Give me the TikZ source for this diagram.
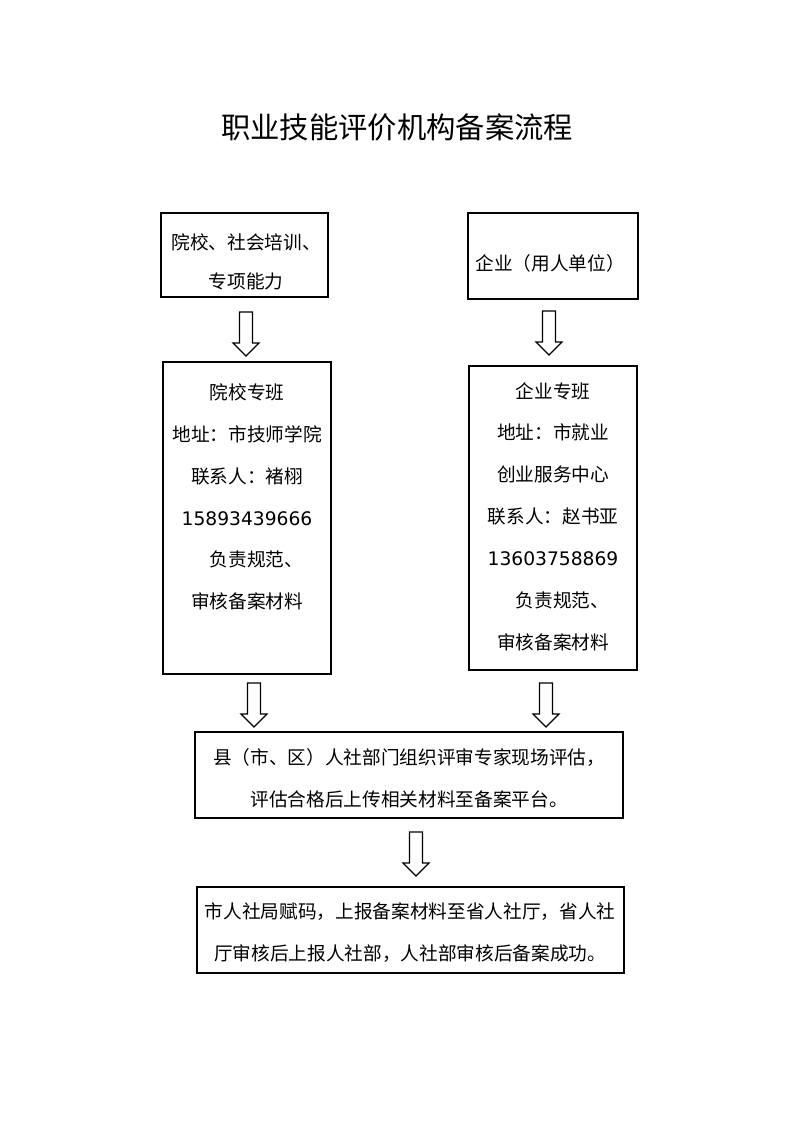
\documentclass[tikz,border=0pt]{standalone}
\usepackage{fontspec}
\setmainfont{Noto Sans CJK SC}
\newfontfamily\numfont{DejaVu Sans}
\begin{document}
\begin{tikzpicture}[x=0.75pt,y=-0.75pt,
  box/.style={draw=black,line width=1pt,inner sep=0pt},
  txt/.style={align=center,inner sep=0pt,font=\fontsize{14}{31.4}\selectfont},
  arrowline/.style={draw=black,line width=0.9pt,line join=miter},
  downarr/.pic={\draw[arrowline] (-6.5,0) -- (6.5,0) -- (6.5,31) -- (13,31) -- (0,44) -- (-13,31) -- (-6.5,31) -- cycle;}]
\useasboundingbox[fill=white] (0,0) rectangle (794,1123);

% title
\node[inner sep=0pt,font=\fontsize{22}{26}\selectfont] (title) at (397,127) {职业技能评价机构备案流程};

% boxes
\node[box,minimum width=167*0.75pt,minimum height=84*0.75pt] (A) at (244.5,255) {};
\node[box,minimum width=170*0.75pt,minimum height=86*0.75pt] (B) at (553,256) {};
\node[box,minimum width=168*0.75pt,minimum height=312*0.75pt] (C) at (247,518) {};
\node[box,minimum width=168*0.75pt,minimum height=304*0.75pt] (D) at (553,518) {};
\node[box,minimum width=428*0.75pt,minimum height=86*0.75pt] (E) at (409,775) {};
\node[box,minimum width=427*0.75pt,minimum height=86*0.75pt] (F) at (410.5,930) {};

% texts
\node[txt,font=\fontsize{14}{29.25}\selectfont] (At) at (246,261.5) {院校、社会培训、\\专项能力};
\node[txt] (Bt) at (550,263) {企业（用人单位）};
\node[txt] (Ct) at (247,497) {院校专班\\地址：市技师学院\\联系人：褚栩\\{\numfont 15893439666}\\\hspace*{1em}负责规范、\\审核备案材料};
\node[txt] (Dt) at (553,516.5) {企业专班\\地址：市就业\\创业服务中心\\联系人：赵书亚\\{\numfont 13603758869}\\\hspace*{1em}负责规范、\\审核备案材料};
\node[txt,font=\fontsize{14}{31.5}\selectfont] (Et) at (409,778) {县（市、区）人社部门组织评审专家现场评估，\\评估合格后上传相关材料至备案平台。};
\node[txt,font=\fontsize{14}{31.5}\selectfont] (Ft) at (410,933) {市人社局赋码，上报备案材料至省人社厅，省人社\\厅审核后上报人社部，人社部审核后备案成功。};

% block arrows
\pic (a1) at (246,312) {downarr};
\pic (a2) at (549,311) {downarr};
\pic (a3) at (254,683) {downarr};
\pic (a4) at (546,683) {downarr};
\pic (a5) at (416,832) {downarr};
\end{tikzpicture}
\end{document}
